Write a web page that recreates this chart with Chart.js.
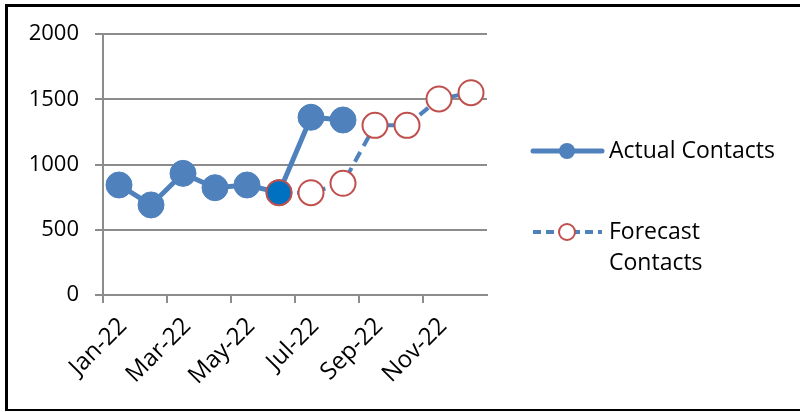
<!DOCTYPE html>
<html>
<head>
<meta charset="utf-8">
<script src="https://cdn.jsdelivr.net/npm/chart.js@4/dist/chart.umd.min.js"></script>
<style>
html,body{margin:0;padding:0;background:#fff;}
#wrap{width:800px;height:412px;position:relative;}
</style>
</head>
<body>
<div id="wrap"><canvas id="c" width="800" height="412"></canvas></div>
<script>
const categories = ["Jan-22","Feb-22","Mar-22","Apr-22","May-22","Jun-22","Jul-22","Aug-22","Sep-22","Oct-22","Nov-22","Dec-22"];
const actualContacts = [843, 690, 932, 822, 843, 784, 1362, 1341, null, null, null, null];
const forecastContacts = [null, null, null, null, null, 784, 784, 856, 1300, 1300, 1502, 1550];
const yTicks = [0, 500, 1000, 1500, 2000];
const seriesNames = ["Actual Contacts", ["Forecast", "Contacts"]];

const FONT = "'Open Sans', 'Liberation Sans', sans-serif";
const BLUE = "#4F81BD";
const RED = "#C0504D";
const GRID = "#8C8C8C";

const framePlugin = {
  id: 'frame',
  beforeDraw(chart) {
    const ctx = chart.ctx;
    ctx.save();
    ctx.fillStyle = '#fff';
    ctx.fillRect(0, 0, chart.width, chart.height);
    ctx.restore();
  },
  afterDraw(chart) {
    const ctx = chart.ctx;
    ctx.save();
    ctx.strokeStyle = '#000';
    ctx.lineWidth = 3;
    ctx.beginPath();
    ctx.moveTo(6.5, 410);
    ctx.lineTo(6.5, 5.5);
    ctx.lineTo(805, 5.5);
    ctx.stroke();
    ctx.lineWidth = 2;
    ctx.beginPath();
    ctx.moveTo(5, 410);
    ctx.lineTo(805, 410);
    ctx.stroke();

    // legend
    const x0 = 533, x1 = 602, xm = 567;
    let y = 151;
    ctx.strokeStyle = BLUE;
    ctx.lineWidth = 5;
    ctx.lineCap = 'round';
    ctx.beginPath(); ctx.moveTo(x0, y); ctx.lineTo(x1, y); ctx.stroke();
    ctx.fillStyle = BLUE;
    ctx.beginPath(); ctx.arc(xm, y, 8, 0, Math.PI * 2); ctx.fill();
    y = 232;
    ctx.lineWidth = 4;
    ctx.lineCap = 'butt';
    ctx.setLineDash([8, 5]);
    ctx.beginPath(); ctx.moveTo(x0, y); ctx.lineTo(x1, y); ctx.stroke();
    ctx.setLineDash([]);
    ctx.fillStyle = '#fff';
    ctx.strokeStyle = RED;
    ctx.lineWidth = 2;
    ctx.beginPath(); ctx.arc(xm, y, 8, 0, Math.PI * 2); ctx.fill(); ctx.stroke();

    ctx.fillStyle = '#000';
    ctx.font = "23px " + FONT;
    ctx.textBaseline = 'middle';
    ctx.textAlign = 'left';
    ctx.fillText(seriesNames[0], 609, 151);
    ctx.fillText(seriesNames[1][0], 609, 232);
    ctx.fillText(seriesNames[1][1], 609, 263);
    ctx.restore();
  }
};

new Chart(document.getElementById('c'), {
  type: 'line',
  data: {
    labels: categories,
    datasets: [
      {
        label: "Actual Contacts",
        data: actualContacts,
        borderColor: BLUE,
        backgroundColor: BLUE,
        borderWidth: 5,
        pointRadius: 13,
        pointBackgroundColor: BLUE,
        pointBorderColor: BLUE,
        pointBorderWidth: 1,
        spanGaps: false,
        order: 1
      },
      {
        label: "Forecast Contacts",
        data: forecastContacts,
        borderColor: BLUE,
        borderWidth: 4,
        borderDash: [11, 7],
        pointRadius: 12.5,
        pointBackgroundColor: forecastContacts.map((v, i) => i === 5 ? '#0070C0' : '#fff'),
        pointBorderColor: RED,
        pointBorderWidth: 2,
        order: 0
      }
    ]
  },
  options: {
    responsive: false,
    animation: false,
    events: [],
    layout: { padding: { left: 0, right: 313, top: 34, bottom: 0 } },
    plugins: { legend: { display: false }, tooltip: { enabled: false } },
    elements: { line: { tension: 0 } },
    scales: {
      x: {
        type: 'category',
        offset: true,
        grid: {
          offset: true,
          drawOnChartArea: false,
          drawTicks: true,
          tickLength: 8,
          lineWidth: 2,
          color: (ctx) => (ctx.index % 2 === 0 ? GRID : 'rgba(0,0,0,0)')
        },
        border: { display: true, color: GRID, width: 2 },
        ticks: {
          autoSkip: false,
          maxRotation: 45,
          minRotation: 45,
          padding: 9,
          labelOffset: 4,
          color: '#000',
          font: { size: 24, family: FONT },
          callback: function (v, i) { return i % 2 === 0 ? categories[i] : ''; }
        },
        afterFit(scale) { scale.height = 117; }
      },
      y: {
        min: 0,
        max: 2000,
        afterBuildTicks(scale) { scale.ticks = yTicks.map(v => ({ value: v })); },
        grid: { color: GRID, lineWidth: 2, tickLength: 8 },
        border: { display: true, color: GRID, width: 2 },
        ticks: {
          padding: 16,
          color: '#000',
          font: { size: 22, family: FONT },
          callback: (v) => String(v)
        },
        afterFit(scale) { scale.width = 103; }
      }
    },
    clip: false
  },
  plugins: [framePlugin]
});
</script>
</body>
</html>
